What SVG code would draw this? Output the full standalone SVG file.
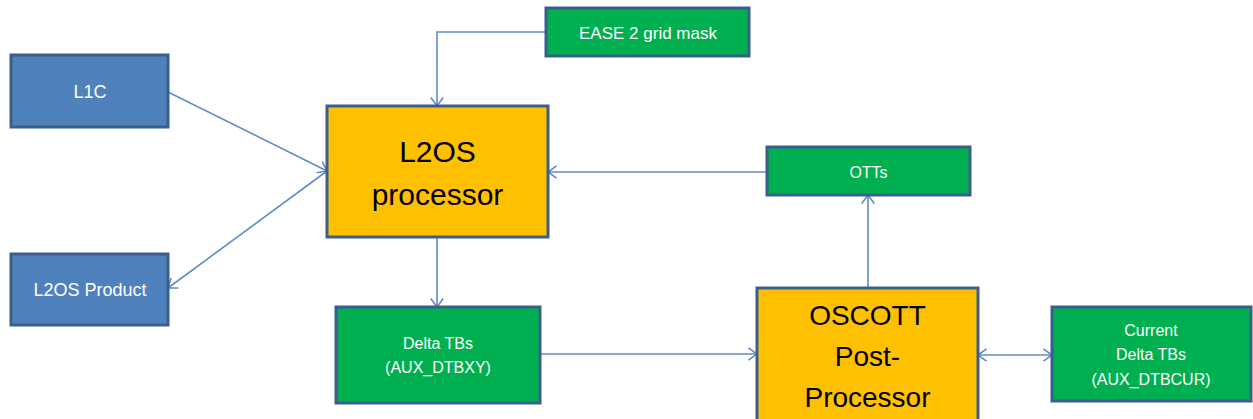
<svg xmlns="http://www.w3.org/2000/svg" width="1253" height="419" viewBox="0 0 1253 419">
  <style>
    .box { stroke: #3B5E8C; stroke-width: 3; }
    .blue { fill: #4F81BD; }
    .green { fill: #00B050; }
    .orange { fill: #FFC000; }
    .lt { font-family: "Liberation Sans", Arial, sans-serif; fill: #FFFFFF; text-anchor: middle; }
    .dk { font-family: "Liberation Sans", Arial, sans-serif; fill: #000000; text-anchor: middle; }
    .conn { fill: none; stroke: #5E8CC8; stroke-width: 1.6; }
  </style>
  <defs>
    <marker id="arr" markerUnits="userSpaceOnUse" viewBox="0 0 10 14" refX="9.5" refY="7" markerWidth="10" markerHeight="14" orient="auto-start-reverse">
      <path d="M1,0.8 L9.5,7 L1,13.2" fill="none" stroke="#5E8CC8" stroke-width="1.6"/>
    </marker>
  </defs>
  <rect width="1253" height="419" fill="#FFFFFF"/>

  <g id="connectors">
    <path class="conn" d="M168,92 L327,171" marker-end="url(#arr)"/>
    <path class="conn" d="M327,171 L168,288" marker-end="url(#arr)"/>
    <path class="conn" d="M546,32 H437 V106" marker-end="url(#arr)"/>
    <path class="conn" d="M767,172 H548" marker-end="url(#arr)"/>
    <path class="conn" d="M437,237 V307" marker-end="url(#arr)"/>
    <path class="conn" d="M540,354 H757" marker-end="url(#arr)"/>
    <path class="conn" d="M868,288 V195" marker-end="url(#arr)"/>
    <path class="conn" d="M978,355 H1052" marker-start="url(#arr)" marker-end="url(#arr)"/>
  </g>

  <g id="l1c">
    <rect class="box blue" x="11" y="55" width="157" height="72"/>
    <text class="lt" x="90" y="98" font-size="18">L1C</text>
  </g>
  <g id="l2os-product">
    <rect class="box blue" x="11" y="254" width="157" height="71"/>
    <text class="lt" x="90" y="296" font-size="18">L2OS Product</text>
  </g>
  <g id="ease-grid-mask">
    <rect class="box green" x="546" y="8" width="203" height="48"/>
    <text class="lt" x="648" y="39" font-size="17">EASE 2 grid mask</text>
  </g>
  <g id="l2os-processor">
    <rect class="box orange" x="327" y="106" width="221" height="131"/>
    <text class="dk" x="437.5" y="162" font-size="30">L2OS</text>
    <text class="dk" x="437.5" y="205" font-size="30">processor</text>
  </g>
  <g id="otts">
    <rect class="box green" x="767" y="147" width="203" height="48"/>
    <text class="lt" x="868.5" y="178" font-size="16">OTTs</text>
  </g>
  <g id="delta-tbs">
    <rect class="box green" x="336" y="307" width="204" height="96"/>
    <text class="lt" x="438" y="349" font-size="16">Delta TBs</text>
    <text class="lt" x="438" y="373" font-size="16">(AUX_DTBXY)</text>
  </g>
  <g id="oscott">
    <rect class="box orange" x="757" y="288" width="221" height="140"/>
    <text class="dk" x="867.5" y="325" font-size="28">OSCOTT</text>
    <text class="dk" x="867.5" y="366" font-size="28">Post-</text>
    <text class="dk" x="867.5" y="407" font-size="28">Processor</text>
  </g>
  <g id="current-delta-tbs">
    <rect class="box green" x="1052" y="307" width="199" height="94"/>
    <text class="lt" x="1151" y="336" font-size="16">Current</text>
    <text class="lt" x="1151" y="360" font-size="16">Delta TBs</text>
    <text class="lt" x="1151" y="385" font-size="16">(AUX_DTBCUR)</text>
  </g>
</svg>
